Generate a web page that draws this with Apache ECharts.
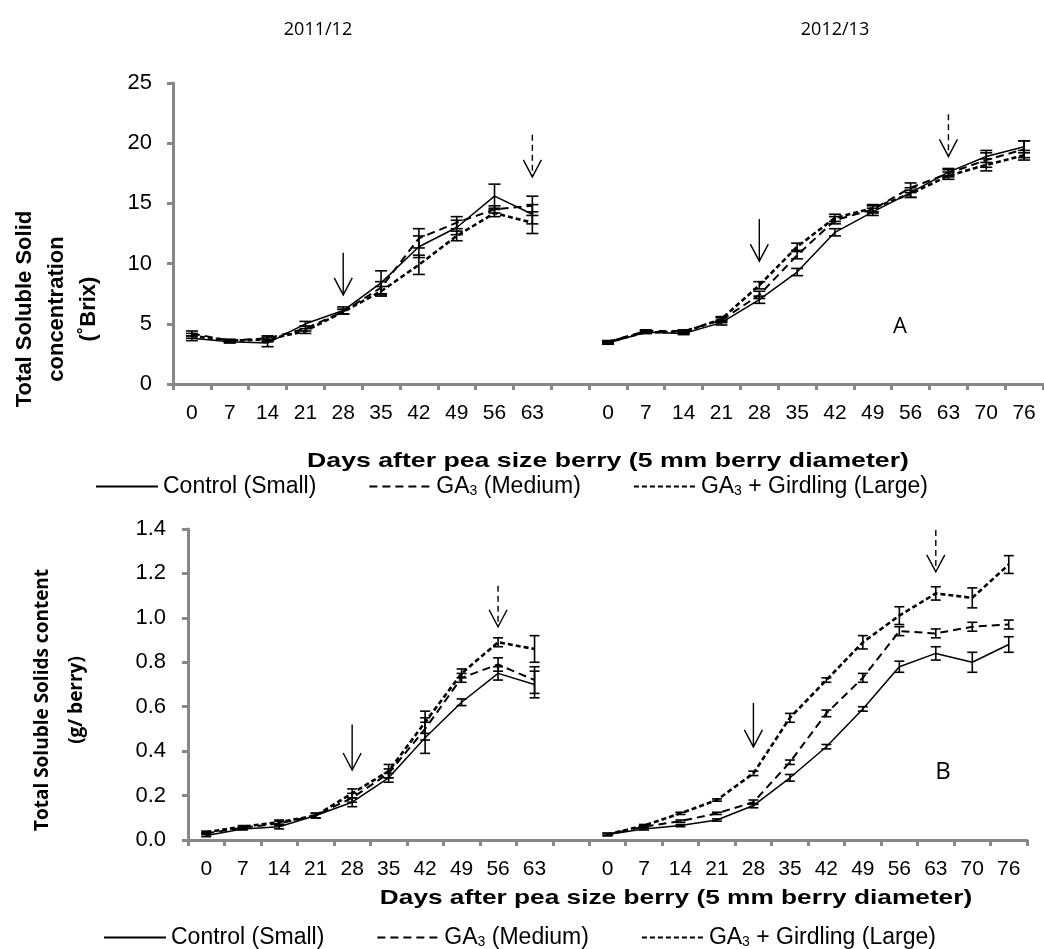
<!DOCTYPE html>
<html><head><meta charset="utf-8">
<script src="https://cdn.jsdelivr.net/npm/echarts@6/dist/echarts.min.js"></script>
<style>html,body{margin:0;padding:0;background:#fff}#c{width:1044px;height:949px}</style>
</head><body><div id="c"></div>
<script>
// ---------- DATA ----------
const season1Days = ['0','7','14','21','28','35','42','49','56','63'];
const season2Days = ['0','7','14','21','28','35','42','49','56','63','70','76'];
const tickLabels = season1Days.concat([''], season2Days);
const seriesNames = ['Control (Small)', 'GA3 (Medium)', 'GA3 + Girdling (Large)'];

// Panel A: total soluble solid concentration (°Brix); null = gap between seasons
const brixControl    = [3.8,3.5,3.4,5.0,6.1,8.4,11.4,13.0,15.6,14.1, null, 3.4,4.3,4.2,5.1,7.0,9.3,12.6,14.3,15.9,17.6,18.9,19.7];
const brixControlErr = [0.2,0.1,0.3,0.2,0.3,1.0,0.9,0.6,1.0,0.8, null, 0.1,0.1,0.1,0.2,0.3,0.3,0.3,0.3,0.4,0.3,0.5,0.5];
const brixMedium     = [4.2,3.6,3.8,4.6,6.0,8.0,12.1,13.4,14.5,14.8, null, 3.5,4.4,4.4,5.3,7.4,10.7,13.6,14.5,16.3,17.5,18.6,19.5];
const brixMediumErr  = [0.2,0.1,0.2,0.2,0.2,0.5,0.8,0.5,0.3,0.8, null, 0.1,0.1,0.1,0.2,0.3,0.3,0.3,0.3,0.4,0.3,0.6,0.7];
const brixLarge      = [4.0,3.6,3.7,4.4,6.0,7.7,9.9,12.3,14.2,13.4, null, 3.5,4.3,4.3,5.4,8.2,11.4,13.8,14.6,15.8,17.3,18.2,19.0];
const brixLargeErr   = [0.2,0.1,0.2,0.2,0.2,0.4,0.8,0.4,0.3,0.9, null, 0.1,0.1,0.1,0.2,0.3,0.3,0.3,0.3,0.3,0.3,0.5,0.4];

// Panel B: total soluble solids content (g / berry)
const tssControl    = [0.02,0.05,0.06,0.11,0.17,0.28,0.46,0.62,0.75,0.70, null, 0.025,0.05,0.065,0.09,0.155,0.28,0.42,0.59,0.78,0.84,0.80,0.88];
const tssControlErr = [0.005,0.005,0.01,0.01,0.02,0.02,0.07,0.015,0.03,0.06, null, 0.005,0.005,0.005,0.005,0.01,0.015,0.01,0.01,0.025,0.03,0.045,0.035];
const tssMedium     = [0.03,0.055,0.075,0.11,0.19,0.30,0.50,0.73,0.79,0.72, null, 0.025,0.06,0.085,0.12,0.17,0.35,0.57,0.73,0.94,0.93,0.96,0.97];
const tssMediumErr  = [0.005,0.005,0.01,0.01,0.02,0.02,0.05,0.02,0.03,0.06, null, 0.005,0.005,0.005,0.005,0.01,0.01,0.015,0.02,0.02,0.02,0.02,0.02];
const tssLarge      = [0.035,0.06,0.08,0.11,0.21,0.31,0.53,0.75,0.89,0.86, null, 0.025,0.065,0.12,0.18,0.30,0.55,0.72,0.89,1.01,1.11,1.09,1.24];
const tssLargeErr   = [0.005,0.005,0.01,0.01,0.02,0.03,0.05,0.02,0.02,0.06, null, 0.005,0.005,0.005,0.005,0.01,0.02,0.01,0.03,0.04,0.03,0.045,0.04];

// Arrows: [category index, value at tail, value at tip, dashed(1)/solid(0)]
const arrowsA = [[4,10.9,7.4,0],[9,20.7,17.2,1],[15,13.7,10.2,0],[20,22.4,18.9,1]];
const arrowsB = [[4,0.52,0.315,0],[8,1.144,0.96,1],[15,0.617,0.419,0],[20,1.396,1.207,1]];

// ---------- CHART ----------
const AR = "'Liberation Sans', Arial, sans-serif";
const OS = "'Open Sans', sans-serif";
const axisGray = '#878787';
const styles = [
  {color:'#000', width:1.5, type:'solid'},
  {color:'#000', width:2, type:[8,5]},
  {color:'#000', width:2.6, type:[5,3]}
];

function lineS(name, data, idx, st) {
  return {type:'line', name, data, xAxisIndex:idx, yAxisIndex:idx, symbol:'none',
    connectNulls:false, lineStyle:st, itemStyle:{color:'#000'}, silent:true, z:3};
}
function errS(vals, errs, idx, cap) {
  const data = [];
  vals.forEach((v,i)=>{ if (v!=null) data.push([i, v-errs[i], v+errs[i]]); });
  return {type:'custom', xAxisIndex:idx, yAxisIndex:idx, data, silent:true, z:4,
    encode:{x:0, y:[1,2]},
    renderItem:(p, api)=>{
      const x = api.value(0);
      const a = api.coord([x, api.value(1)]), b = api.coord([x, api.value(2)]);
      const st = {stroke:'#000', lineWidth:1.6};
      return {type:'group', children:[
        {type:'line', shape:{x1:a[0],y1:a[1],x2:b[0],y2:b[1]}, style:st},
        {type:'line', shape:{x1:a[0]-cap,y1:a[1],x2:a[0]+cap,y2:a[1]}, style:st},
        {type:'line', shape:{x1:b[0]-cap,y1:b[1],x2:b[0]+cap,y2:b[1]}, style:st}
      ]};
    }};
}
function arrowS(arr, idx) {
  return {type:'custom', xAxisIndex:idx, yAxisIndex:idx, data:arr, silent:true, z:5,
    encode:{x:0, y:[1,2]},
    renderItem:(p, api)=>{
      const x = api.value(0);
      const a = api.coord([x, api.value(1)]), b = api.coord([x, api.value(2)]);
      const dashed = api.value(3) === 1;
      const st = {stroke:'#000', lineWidth:1.4, fill:null, lineDash: dashed ? [6,4] : null};
      return {type:'group', children:[
        {type:'line', shape:{x1:a[0],y1:a[1],x2:b[0],y2:b[1]}, style:st},
        {type:'polyline', shape:{points:[[b[0]-9,b[1]-17],[b[0],b[1]],[b[0]+9,b[1]-17]]},
          style:{stroke:'#000', lineWidth:1.4, fill:null}}
      ]};
    }};
}
function xAx(idx) {
  return {type:'category', gridIndex:idx, data:tickLabels.map((t,i)=>'c'+i), boundaryGap:true,
    axisLine:{lineStyle:{color:axisGray, width:3}},
    axisTick:{show:true, length:6, interval:0, lineStyle:{color:axisGray, width:3}},
    axisLabel:{interval:0, margin:19, color:'#000', fontFamily:AR, fontSize:21,
      formatter:(v,i)=>tickLabels[i]},
    splitLine:{show:false}};
}
function yAx(idx, max, interval, dec, margin) {
  return {type:'value', gridIndex:idx, min:0, max, interval,
    axisLine:{show:true, lineStyle:{color:axisGray, width:3}},
    axisTick:{show:true, length:6, lineStyle:{color:axisGray, width:3}},
    axisLabel:{margin, color:'#000', fontFamily:AR, fontSize:22,
      formatter:v=>v.toFixed(dec)},
    splitLine:{show:false}};
}
const legendFmt = n => n.replace(/GA3/, 'GA{s|3}');
const legendText = {fontFamily:AR, fontSize:23, color:'#000',
  rich:{s:{fontFamily:AR, fontSize:14, color:'#000', verticalAlign:'bottom', lineHeight:15}}};
const legendBase = {data:seriesNames, itemWidth:62, itemHeight:12, itemGap:52,
  selectedMode:false, formatter:legendFmt, textStyle:legendText,
  itemStyle:{opacity:0}};

const option = {
  animation:false,
  backgroundColor:'#fff',
  grid:[
    {left:173, top:83, width:870, height:301},
    {left:188, top:529, width:839, height:311}
  ],
  xAxis:[xAx(0), xAx(1)],
  yAxis:[yAx(0,25,5,0,21), yAx(1,1.4,0.2,1,22)],
  legend:[
    Object.assign({}, legendBase, {left:90, top:470}),
    Object.assign({}, legendBase, {left:98, top:921})
  ],
  series:[
    lineS(seriesNames[0], brixControl, 0, styles[0]),
    lineS(seriesNames[1], brixMedium, 0, styles[1]),
    lineS(seriesNames[2], brixLarge, 0, styles[2]),
    errS(brixControl, brixControlErr, 0, 6),
    errS(brixMedium, brixMediumErr, 0, 6),
    errS(brixLarge, brixLargeErr, 0, 6),
    arrowS(arrowsA, 0),
    lineS(seriesNames[0], tssControl, 1, styles[0]),
    lineS(seriesNames[1], tssMedium, 1, styles[1]),
    lineS(seriesNames[2], tssLarge, 1, styles[2]),
    errS(tssControl, tssControlErr, 1, 5),
    errS(tssMedium, tssMediumErr, 1, 5),
    errS(tssLarge, tssLargeErr, 1, 5),
    arrowS(arrowsB, 1)
  ],
  graphic:[
    {type:'text', x:318, y:30, style:{text:'2011/12', font:'18px '+OS, fill:'#000', align:'center', verticalAlign:'middle'}},
    {type:'text', x:835, y:30, style:{text:'2012/13', font:'18px '+OS, fill:'#000', align:'center', verticalAlign:'middle'}},
    {type:'text', x:57, y:309, rotation:Math.PI/2,
      style:{text:'Total Soluble Solid\nconcentration\n(\u02DABrix)', font:'bold 22px '+AR, lineHeight:32, fill:'#000', align:'center', verticalAlign:'middle'}},
    {type:'text', x:60, y:700, rotation:Math.PI/2,
      style:{text:'Total Soluble Solids content\n(g/ berry)', font:'bold 19px '+OS, lineHeight:34, fill:'#000', align:'center', verticalAlign:'middle'}},
    {type:'text', x:608, y:461, scaleX:1.27,
      style:{text:'Days after pea size berry (5 mm berry diameter)', font:'bold 21px '+AR, fill:'#000', align:'center', verticalAlign:'middle'}},
    {type:'text', x:676, y:898, scaleX:1.25,
      style:{text:'Days after pea size berry (5 mm berry diameter)', font:'bold 21px '+AR, fill:'#000', align:'center', verticalAlign:'middle'}},
    {type:'text', x:900, y:327, style:{text:'A', font:'22px '+OS, fill:'#000', align:'center', verticalAlign:'middle'}},
    {type:'text', x:943, y:772, style:{text:'B', font:'24px '+OS, fill:'#000', align:'center', verticalAlign:'middle'}}
  ]
};
const chart = echarts.init(document.getElementById('c'), null, {renderer:'canvas'});
chart.setOption(option);
</script>
</body></html>
